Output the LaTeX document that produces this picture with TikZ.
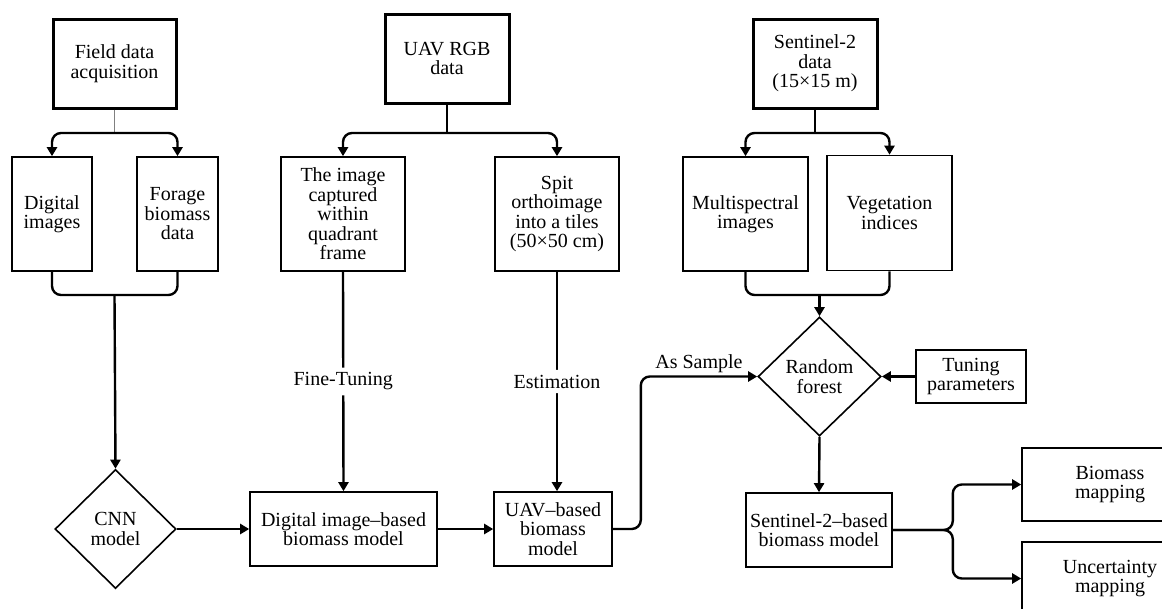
\documentclass[tikz,border=0pt]{standalone}
\usepackage{fontspec}
\setmainfont{Liberation Serif}
\usetikzlibrary{arrows.meta,positioning,shapes.geometric,calc}
\tikzset{every node/.append style={font=\fontsize{20}{19.5}\selectfont}}

\begin{document}
\begin{tikzpicture}[x=1pt,y=-1pt,
  box/.style={draw,line width=1.6pt,align=center,inner sep=2pt},
  srcbox/.style={box,line width=3pt},
  dia/.style={draw,diamond,line width=1.6pt,align=center,inner sep=0pt},
  conn/.style={line width=2.4pt,rounded corners=9pt},
  tip/.style={-{Triangle[length=9pt,width=10pt]}},
  twotip/.style={{Triangle[length=9pt,width=10pt]}-{Triangle[length=9pt,width=10pt]}},
  lbl/.style={fill=white,inner sep=5pt}]
\useasboundingbox (0,0) rectangle (1162,608);
\clip (0,0) rectangle (1162,608);
\node[srcbox,minimum width=123pt,minimum height=89pt] (field) at (114.5,63.5) {Field data\\acquisition};
\node[srcbox,minimum width=124pt,minimum height=89pt] (uav) at (447,58.5) {UAV RGB\\data};
\node[srcbox,minimum width=124pt,minimum height=89pt] (senti) at (815,63.5) {Sentinel-2\\data\\(15×15 m)};
\node[box,minimum width=80pt,minimum height=114pt] (digimg) at (52,214) {Digital\\images};
\node[box,minimum width=81pt,minimum height=114pt] (forage) at (177.5,214) {Forage\\biomass\\data};
\node[box,minimum width=124pt,minimum height=114pt] (quadimg) at (343,214) {The image\\captured\\within\\quadrant\\frame};
\node[box,minimum width=124pt,minimum height=114pt] (tiles) at (557,214) {Spit\\orthoimage\\into a tiles\\(50×50 cm)};
\node[box,minimum width=125pt,minimum height=114pt] (multi) at (745.5,214) {Multispectral\\images};
\node[box,minimum width=125pt,minimum height=115pt] (vegind) at (889.5,213) {Vegetation\\indices};
\node[dia,minimum width=121pt,minimum height=119pt] (cnn) at (115.5,529) {CNN\\model};
\node[box,minimum width=187pt,minimum height=74pt] (digmod) at (343.5,529) {Digital image–based\\biomass model};
\node[box,minimum width=118pt,minimum height=74pt] (uavmod) at (553,529) {UAV–based\\biomass\\model};
\node[dia,minimum width=123pt,minimum height=119pt] (rf) at (819.5,376.5) {Random\\forest};
\node[box,minimum width=110pt,minimum height=53pt] (tune) at (971,376.5) {Tuning\\parameters};
\node[box,minimum width=146pt,minimum height=74pt] (s2mod) at (819,530) {Sentinel-2–based\\biomass model};
\node[box,minimum width=176pt,minimum height=73pt] (biomap) at (1110,484.5) {Biomass\\mapping};
\node[box,minimum width=176pt,minimum height=73pt] (uncmap) at (1110,578.5) {Uncertainty\\mapping};
\coordinate (fsplit) at (114.5,133);
\coordinate (fjoin) at (114.5,295);
\coordinate (usplit) at (447,133);
\coordinate (ssplit) at (815,133);
\coordinate (sjoin) at (819.5,295);
\draw[gray,line width=1pt] (field.south) -- (fsplit);
\draw[conn,twotip] (digimg.north) |- (fsplit) -| (forage.north);
\draw[conn] (digimg.south) |- (fjoin) -| (forage.south);
\draw[conn,tip] (fjoin) -- (cnn.north);
\draw[conn] (uav.south) -- (usplit);
\draw[conn,twotip] (quadimg.north) |- (usplit) -| (tiles.north);
\draw[conn,tip] (quadimg.south) -- node[lbl] {Fine-Tuning} (digmod.north);
\draw[conn,tip] (tiles.south) -- node[lbl] {Estimation} (tiles.south |- uavmod.north);
\draw[conn] (senti.south) -- (ssplit);
\draw[conn,twotip] (multi.north) |- (ssplit) -| (vegind.north);
\draw[conn] (multi.south) |- (sjoin) -| (vegind.south);
\draw[conn,tip] (sjoin) -- (rf.north);
\draw[conn,tip] (cnn.east) -- (digmod.west);
\draw[conn,tip] (digmod.east) -- (uavmod.west);
\draw[conn,tip] (uavmod.east) -- ++(28,0) |- node[pos=0.75,above,inner sep=3pt] {As Sample} (rf.west);
\draw[conn,tip] (tune.west) -- (rf.east);
\draw[conn,tip] (rf.south) -- (s2mod.north);
\draw[conn,tip] (s2mod.east) -- ++(60,0) |- (biomap.west);
\draw[conn,tip] (s2mod.east) -- ++(60,0) |- (uncmap.west);
\end{tikzpicture}
\end{document}
